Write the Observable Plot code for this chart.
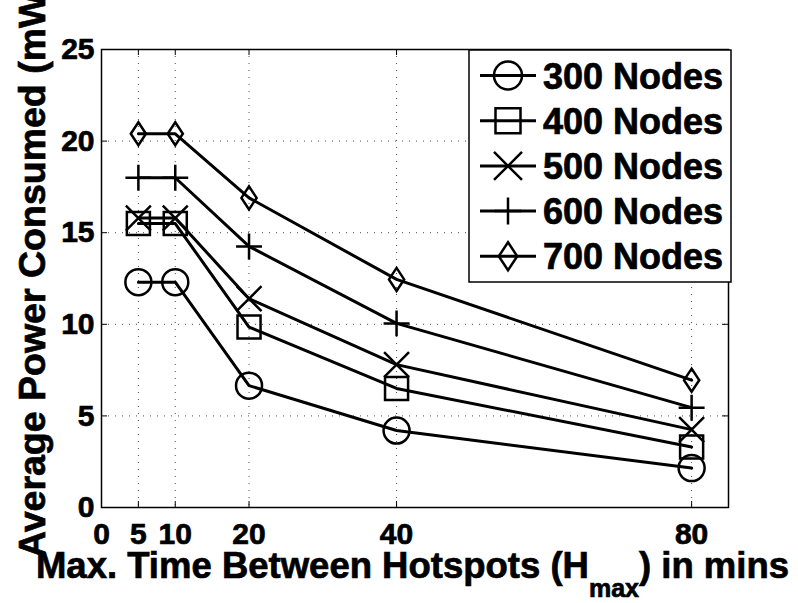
<!DOCTYPE html>
<html>
<head>
<meta charset="utf-8">
<script src="https://cdn.jsdelivr.net/npm/d3@7"></script>
<script src="https://cdn.jsdelivr.net/npm/@observablehq/plot@0.6"></script>
<style>
  html, body { margin: 0; padding: 0; background: white; }
  #chart svg { display: block; }
</style>
</head>
<body>
<div id="chart"></div>
<script>
// ---- data ----
const hmax = [5, 10, 20, 40, 80];
const nodes300 = [12.3, 12.3, 6.65, 4.2, 2.15];
const nodes400 = [15.5, 15.5, 9.85, 6.5, 3.3];
const nodes500 = [15.8, 15.8, 11.4, 7.8, 4.25];
const nodes600 = [18.0, 18.0, 14.25, 10.05, 5.45];
const nodes700 = [20.4, 20.4, 16.9, 12.45, 6.95];
const seriesNames = ["300 Nodes", "400 Nodes", "500 Nodes", "600 Nodes", "700 Nodes"];
const xTickValues = [0, 5, 10, 20, 40, 80];
const yTickValues = [0, 5, 10, 15, 20, 25];
const xLabelMain = "Max. Time Between Hotspots (H";
const xLabelSub = "max";
const xLabelEnd = ") in mins";
const yLabel = "Average Power Consumed (mW)";

// ---- build table ----
const seriesValues = [nodes300, nodes400, nodes500, nodes600, nodes700];
const rows = [];
seriesValues.forEach((vals, i) => vals.forEach((v, j) => rows.push({x: hmax[j], y: v, series: seriesNames[i]})));

const diamondSym = {
  draw(ctx, size) {
    const h = Math.sqrt(size / Math.PI);
    const w = h * 0.66;
    ctx.moveTo(0, -h); ctx.lineTo(w, 0); ctx.lineTo(0, h); ctx.lineTo(-w, 0); ctx.closePath();
  }
};
const symbols = ["circle", "square", "times", "plus", diamondSym];
const dotR = [13, 13, 11.4, 8.4, 11.5];
const font = '"Liberation Sans", Arial, Helvetica, sans-serif';

const W = 798, H = 603, mL = 101, mR = 70, mT = 49, mB = 96;
const frameW = W - mL - mR, frameH = H - mT - mB;

const marks = [
  Plot.gridX(xTickValues.slice(1), {stroke: "#222", strokeOpacity: 0.8, strokeDasharray: "1,6", strokeWidth: 1}),
  Plot.gridY(yTickValues.slice(1, -1), {stroke: "#222", strokeOpacity: 0.8, strokeDasharray: "1,6", strokeWidth: 1}),
  Plot.ruleX(xTickValues, {insetTop: frameH - 6, stroke: "black", strokeWidth: 1}),
  Plot.ruleX(xTickValues, {insetBottom: frameH - 6, stroke: "black", strokeWidth: 1}),
  Plot.ruleY(yTickValues, {insetRight: frameW - 6, stroke: "black", strokeWidth: 1}),
  Plot.ruleY(yTickValues, {insetLeft: frameW - 6, stroke: "black", strokeWidth: 1}),
  Plot.frame({stroke: "black", strokeWidth: 1.5}),
  Plot.axisX(xTickValues, {tickSize: 0, tickPadding: 15, fontSize: 30, fontWeight: "bold", label: null, fill: "black"}),
  Plot.axisY(yTickValues, {tickSize: 0, tickPadding: 7, fontSize: 30, fontWeight: "bold", label: null, fill: "black"}),
  Plot.line(rows, {x: "x", y: "y", z: "series", stroke: "black", strokeWidth: 3})
];
seriesNames.forEach((name, i) => {
  marks.push(Plot.dot(rows.filter(d => d.series === name), {
    x: "x", y: "y", symbol: symbols[i], r: dotR[i], fill: "none", stroke: "black", strokeWidth: 2.5
  }));
});

const chart = Plot.plot({
  width: W, height: H,
  marginLeft: mL, marginRight: mR, marginTop: mT, marginBottom: mB,
  x: {domain: [0, 85]},
  y: {domain: [0, 25]},
  style: {fontFamily: font, background: "white", color: "black", overflow: "visible"},
  marks
});
document.getElementById("chart").appendChild(chart);

// ---- labels & legend ----
const svg = d3.select(chart);

const xl = svg.append("text")
  .attr("x", (mL + W - mR) / 2 - 2).attr("y", 578)
  .attr("text-anchor", "middle")
  .attr("font-family", font).attr("font-weight", "bold").attr("font-size", 36.5).attr("fill", "black");
xl.append("tspan").text(xLabelMain);
xl.append("tspan").attr("dy", 19).attr("font-size", 25).text(xLabelSub);
xl.append("tspan").attr("dy", -19).text(xLabelEnd);

svg.append("text")
  .attr("transform", "translate(45,558) rotate(-90)")
  .attr("text-anchor", "start")
  .attr("font-family", font).attr("font-weight", "bold").attr("font-size", 37.5).attr("fill", "black")
  .text(yLabel);

const leg = svg.append("g");
leg.append("rect").attr("x", 469).attr("y", 50).attr("width", 262).attr("height", 232)
  .attr("fill", "white").attr("stroke", "black").attr("stroke-width", 1.5);
const legSyms = [d3.symbolCircle, d3.symbolSquare, d3.symbolTimes, d3.symbolPlus, diamondSym];
const legSizes = [Math.PI * 14 * 14, 625, 513.7, 239.7, Math.PI * 14 * 14];
seriesNames.forEach((name, i) => {
  const cy = 75.5 + i * 45.2;
  leg.append("line").attr("x1", 480).attr("x2", 536).attr("y1", cy).attr("y2", cy)
    .attr("stroke", "black").attr("stroke-width", 3);
  leg.append("path").attr("d", d3.symbol(legSyms[i], legSizes[i])())
    .attr("transform", `translate(508,${cy})`)
    .attr("fill", "none").attr("stroke", "black").attr("stroke-width", 2.5);
  leg.append("text").attr("x", 543).attr("y", cy + 13)
    .attr("text-anchor", "start")
    .attr("font-family", font).attr("font-weight", "bold").attr("font-size", 36).attr("fill", "black")
    .text(name);
});

// heavier glyphs, like the reference's bold Helvetica
svg.selectAll("text").attr("stroke", "black").attr("stroke-width", 0.7).attr("paint-order", "stroke");
</script>
</body>
</html>
